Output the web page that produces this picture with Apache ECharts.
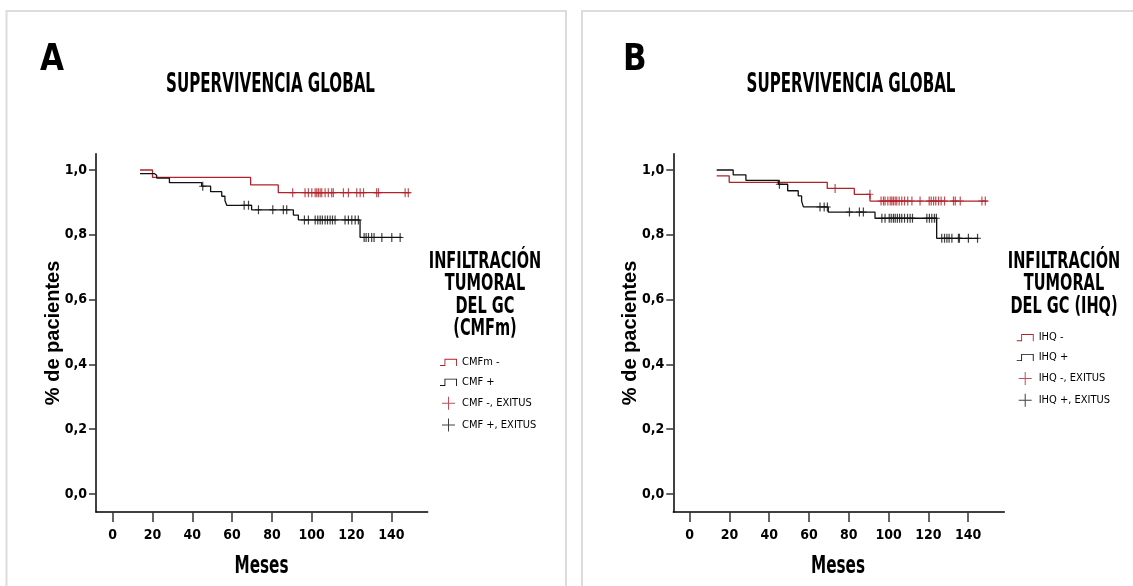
<!DOCTYPE html>
<html>
<head>
<meta charset="utf-8">
<title>Supervivencia global</title>
<script src="https://cdn.jsdelivr.net/npm/echarts@6/dist/echarts.min.js"></script>
<style>
  html, body { margin: 0; padding: 0; background: #fff; }
  #chart { width: 1133px; height: 586px; }
</style>
</head>
<body>
<div id="chart"></div>
<script>
// ---- Data: Kaplan-Meier steps (months, survival) and censored cases ----
const X_TICKS = [0, 20, 40, 60, 80, 100, 120, 140];
const Y_TICKS = [0, 0.2, 0.4, 0.6, 0.8, 1.0];

// Panel A: CMFm
const cmfNegTime = [13.7, 20.0, 69.3, 83.2, 149.7];
const cmfNegSurv = [1.000, 0.977, 0.954, 0.930, 0.930];
const cmfPosTime = [13.7, 20.9, 22.1, 28.5, 44.7, 49.2, 54.8, 56.4, 57.3, 69.8, 90.8, 93.3, 124.3, 145.2];
const cmfPosSurv = [0.989, 0.984, 0.975, 0.961, 0.950, 0.933, 0.919, 0.906, 0.891, 0.877, 0.861, 0.846, 0.792, 0.792];
const cmfNegCensor = [90.4, 96.6, 98.3, 100.0, 101.7, 102.5, 103.3, 104.2, 105.0, 106.7, 108.3, 110.0, 110.8,
  115.9, 118.4, 122.6, 124.3, 126.0, 132.6, 133.5, 146.9, 148.5];
const cmfPosCensor = [45.2, 66.0, 68.2, 73.2, 80.4, 85.7, 87.4, 96.3, 98.3, 101.7, 103.0, 104.2, 105.3, 106.7,
  107.9, 109.2, 110.4, 111.7, 116.7, 118.4, 120.1, 121.8, 123.4, 126.3, 127.3, 128.5, 130.1, 131.3, 135.2, 140.2, 144.4];

// Panel B: IHQ
const ihqNegTime = [13.6, 19.9, 69.2, 82.8, 90.7, 149.9];
const ihqNegSurv = [0.982, 0.962, 0.943, 0.925, 0.904, 0.904];
const ihqPosTime = [13.6, 21.9, 28.3, 44.6, 49.3, 54.6, 56.3, 57.2, 69.7, 93.2, 124.2, 145.2];
const ihqPosSurv = [1.000, 0.985, 0.968, 0.956, 0.936, 0.920, 0.904, 0.886, 0.870, 0.851, 0.789, 0.789];
const ihqNegCensor = [73.1, 90.6, 96.2, 97.4, 98.2, 99.6, 100.8, 101.6, 102.4, 103.3, 104.1, 105.3, 106.6, 108.0,
  109.6, 111.7, 115.8, 120.4, 121.4, 122.6, 123.7, 125.1, 126.4, 128.1, 132.6, 133.5, 136.0, 146.9, 148.6];
const ihqPosCensor = [45.1, 65.5, 67.6, 69.2, 80.3, 85.3, 87.3, 96.6, 98.2, 100.3, 101.3, 102.4, 103.3, 104.4,
  105.5, 106.6, 108.0, 109.5, 110.8, 112.0, 119.2, 120.5, 121.7, 123.0, 124.0, 126.7, 128.1, 129.3, 130.4,
  131.8, 135.1, 135.6, 140.1, 144.7];

// ---- Styling ----
const RED = '#b0222b';
const BLACK = '#111111';
const NARROW = "'Liberation Sans Narrow', 'DejaVu Sans Condensed', sans-serif";
const WIDE = "'Liberation Sans', Arial, sans-serif";

// step glyph "_⊓" and censor cross, as filled outlines
const STEP_ICON = 'path://M0,7 L5,7 L5,0 L19,0 L19,8 L18,8 L18,1 L6,1 L6,8 L0,8 Z';
const CROSS_ICON = 'path://M0,6 L6,6 L6,0 L7,0 L7,6 L13,6 L13,7 L7,7 L7,13 L6,13 L6,7 L0,7 Z';
const CENSOR_MARK = 'path://M0,4 L3,4 L3,0 L4.2,0 L4.2,4 L7,4 L7,5 L4.2,5 L4.2,9 L3,9 L3,5 L0,5 Z';

// survival value of a step curve at time t
function survAt(times, surv, t) {
  let v = surv[0];
  for (let i = 0; i < times.length; i++) { if (times[i] <= t) v = surv[i]; }
  return v;
}
function pairs(times, surv) { return times.map((t, i) => [t, surv[i]]); }
function censorPoints(cens, times, surv) { return cens.map(t => [t, survAt(times, surv, t)]); }

// horizontal squeeze so condensed headings fit their width
const mctx = document.createElement('canvas').getContext('2d');
function fitScale(text, font, width) { mctx.font = font; return width / mctx.measureText(text).width; }

function xAxis(gridIndex, min, max) {
  return {
    type: 'value', gridIndex, min, max,
    axisLine: { onZero: false, lineStyle: { color: '#000', width: 1.5 } },
    axisTick: { show: true, length: 10, customValues: X_TICKS, lineStyle: { color: '#333', width: 1.5 } },
    axisLabel: { customValues: X_TICKS, margin: 16, fontFamily: NARROW, fontWeight: 'bold', fontSize: 14, color: '#000' },
    splitLine: { show: false }
  };
}
function yAxis(gridIndex, nameGap) {
  return {
    type: 'value', gridIndex, min: -0.0556, max: 1.05,
    name: '% de pacientes', nameLocation: 'middle', nameGap, nameMoveOverlap: false,
    nameTextStyle: { fontFamily: WIDE, fontWeight: 'bold', fontSize: 20, color: '#000' },
    axisLine: { show: true, onZero: false, lineStyle: { color: '#000', width: 1.5 } },
    axisTick: { show: true, length: 7, customValues: Y_TICKS, lineStyle: { color: '#333', width: 1.5 } },
    axisLabel: {
      customValues: Y_TICKS, margin: 9, fontFamily: NARROW, fontWeight: 'bold', fontSize: 14, color: '#000',
      formatter: v => v.toFixed(1).replace('.', ',')
    },
    splitLine: { show: false }
  };
}
function kmLine(name, idx, times, surv, color) {
  return {
    name, type: 'line', xAxisIndex: idx, yAxisIndex: idx, step: 'end', showSymbol: false,
    color, lineStyle: { color, width: 1.3 }, itemStyle: { color }, silent: true,
    data: pairs(times, surv), z: 3
  };
}
function censor(name, idx, cens, times, surv, color) {
  return {
    name, type: 'scatter', xAxisIndex: idx, yAxisIndex: idx, symbol: CENSOR_MARK, symbolSize: [7, 9],
    color, itemStyle: { color }, silent: true,
    data: censorPoints(cens, times, surv), z: 4
  };
}
function legend(left, top, names) {
  return {
    orient: 'vertical', left, top, padding: 0, itemWidth: 17, itemHeight: 13, itemGap: 8.9,
    symbolKeepAspect: true, selectedMode: false,
    textStyle: { fontFamily: NARROW, fontSize: 11, color: '#000' },
    data: [
      { name: names[0], icon: STEP_ICON },
      { name: names[1], icon: STEP_ICON },
      { name: names[2], icon: CROSS_ICON },
      { name: names[3], icon: CROSS_ICON }
    ]
  };
}

// headings drawn as text elements
const TITLE_FONT = `bold 26px ${NARROW}`;
const LETTER_FONT = `bold 37px ${NARROW}`;
const HEAD_FONT = `bold 23px ${NARROW}`;
const AXIS_FONT = `bold 25px ${NARROW}`;
function label(text, x, y, font, sx, align) {
  return { type: 'text', x, y, scaleX: sx, silent: true,
    style: { text, x: 0, y: 0, font, fill: '#000', textAlign: align || 'center', textVerticalAlign: 'middle' } };
}
const titleScale = fitScale('SUPERVIVENCIA GLOBAL', TITLE_FONT, 209);
const headScale = fitScale('INFILTRACIÓN', HEAD_FONT, 112.5);
const letterScale = fitScale('A', LETTER_FONT, 24);
const mesesScale = fitScale('Meses', AXIS_FONT, 54);

const graphic = [
  { type: 'rect', silent: true, shape: { x: 6.5, y: 11, width: 559.5, height: 600 },
    style: { fill: 'none', stroke: '#dcdcdc', lineWidth: 2 } },
  { type: 'rect', silent: true, shape: { x: 582, y: 11, width: 600, height: 600 },
    style: { fill: 'none', stroke: '#dcdcdc', lineWidth: 2 } },
  label('A', 40, 60, LETTER_FONT, letterScale, 'left'),
  label('B', 623, 60, LETTER_FONT, letterScale, 'left'),
  label('SUPERVIVENCIA GLOBAL', 270.5, 85, TITLE_FONT, titleScale),
  label('SUPERVIVENCIA GLOBAL', 851, 85, TITLE_FONT, titleScale),
  label('INFILTRACIÓN', 485, 262, HEAD_FONT, headScale),
  label('TUMORAL', 485, 284.5, HEAD_FONT, headScale),
  label('DEL GC', 485, 307, HEAD_FONT, headScale),
  label('(CMFm)', 485, 329.5, HEAD_FONT, headScale),
  label('INFILTRACIÓN', 1064, 262, HEAD_FONT, headScale),
  label('TUMORAL', 1064, 284.5, HEAD_FONT, headScale),
  label('DEL GC (IHQ)', 1064, 307, HEAD_FONT, headScale),
  label('Meses', 261.5, 566, AXIS_FONT, mesesScale),
  label('Meses', 838, 566, AXIS_FONT, mesesScale)
];

const chart = echarts.init(document.getElementById('chart'), null, { renderer: 'canvas' });
chart.setOption({
  backgroundColor: '#fff',
  animation: false,
  graphic,
  grid: [
    { left: 96, top: 153.8, width: 331.7, height: 358.2 },
    { left: 673.3, top: 153.8, width: 331, height: 358.2 }
  ],
  xAxis: [xAxis(0, -8.4, 158.3), xAxis(1, -8.2, 158.2)],
  yAxis: [yAxis(0, 33), yAxis(1, 33)],
  legend: [
    legend(440, 356.9, ['CMFm -', 'CMF +', 'CMF -, EXITUS', 'CMF +, EXITUS']),
    legend(1016.7, 332.1, ['IHQ -', 'IHQ +', 'IHQ -, EXITUS', 'IHQ +, EXITUS'])
  ],
  series: [
    kmLine('CMFm -', 0, cmfNegTime, cmfNegSurv, RED),
    kmLine('CMF +', 0, cmfPosTime, cmfPosSurv, BLACK),
    censor('CMF -, EXITUS', 0, cmfNegCensor, cmfNegTime, cmfNegSurv, RED),
    censor('CMF +, EXITUS', 0, cmfPosCensor, cmfPosTime, cmfPosSurv, BLACK),
    kmLine('IHQ -', 1, ihqNegTime, ihqNegSurv, RED),
    kmLine('IHQ +', 1, ihqPosTime, ihqPosSurv, BLACK),
    censor('IHQ -, EXITUS', 1, ihqNegCensor, ihqNegTime, ihqNegSurv, RED),
    censor('IHQ +, EXITUS', 1, ihqPosCensor, ihqPosTime, ihqPosSurv, BLACK)
  ]
});
</script>
</body>
</html>
